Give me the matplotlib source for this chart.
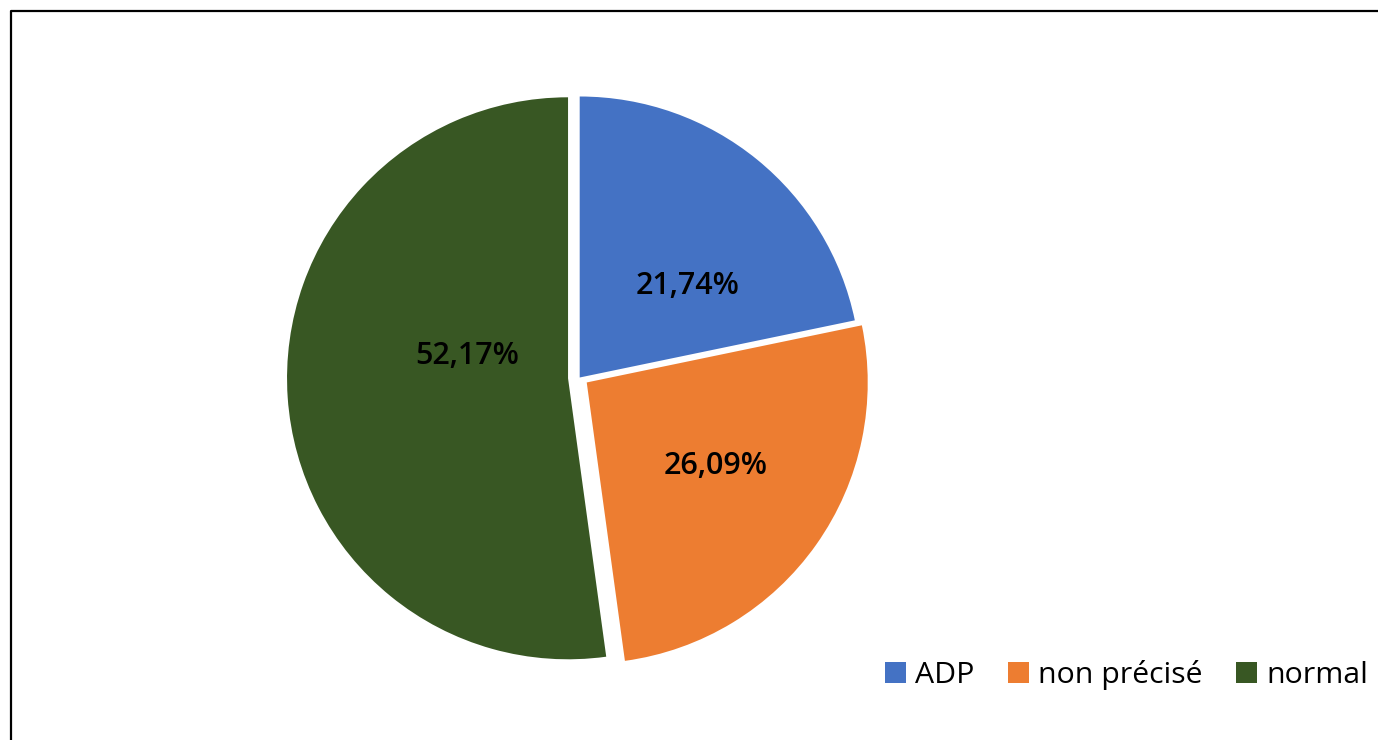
import matplotlib
matplotlib.use("Agg")
import matplotlib.pyplot as plt
from matplotlib.lines import Line2D

# Répartition des cas
categories = ["ADP", "non précisé", "normal"]
values = [21.74, 26.09, 52.17]
colors = ["#4472C4", "#ED7D31", "#385723"]

plt.rcParams["font.family"] = ["Open Sans", "DejaVu Sans"]

W, H = 1378, 740
fig = plt.figure(figsize=(W / 100, H / 100), dpi=100)

# pie geometry in pixels
cx, cy, R = 579.7, 740 - 377.5, 281.0
half = 1.1 * R
ax = fig.add_axes([(cx - half) / W, (cy - half) / H, 2 * half / W, 2 * half / H])

# slices pulled out of the pie
explode = [0.0, 0.0306, 0.0416]
wedges, _ = ax.pie(values, colors=colors, startangle=90, counterclock=False,
                   explode=explode, radius=1.0,
                   wedgeprops=dict(linewidth=0))
ax.set_xlim(-1.1, 1.1)
ax.set_ylim(-1.1, 1.1)
ax.axis("off")

# percentage labels placed inside each slice
label_pos = [(0.385, 0.325), (0.485, -0.316), (-0.401, 0.075)]
for v, (x, y) in zip(values, label_pos):
    ax.text(x, y, f"{v:.2f}".replace(".", ",") + "%", ha="center", va="center",
            fontsize=22, fontweight="semibold", color="black")

leg = fig.legend(wedges, categories, loc="upper left",
                 bbox_to_anchor=(885 / W, 1 - 660 / H), ncol=3, frameon=False,
                 fontsize=21.8, borderpad=0, borderaxespad=0,
                 handlelength=0.7, handleheight=0.7, handletextpad=0.3,
                 columnspacing=1.1)

# chart frame (left and top edges)
frame = Line2D([10.5, 10.5, W + 20], [-20, H - 11, H - 11], color="black",
               linewidth=1.6, transform=None)
fig.add_artist(frame)

fig.savefig("out.png", dpi=100, facecolor="white")
